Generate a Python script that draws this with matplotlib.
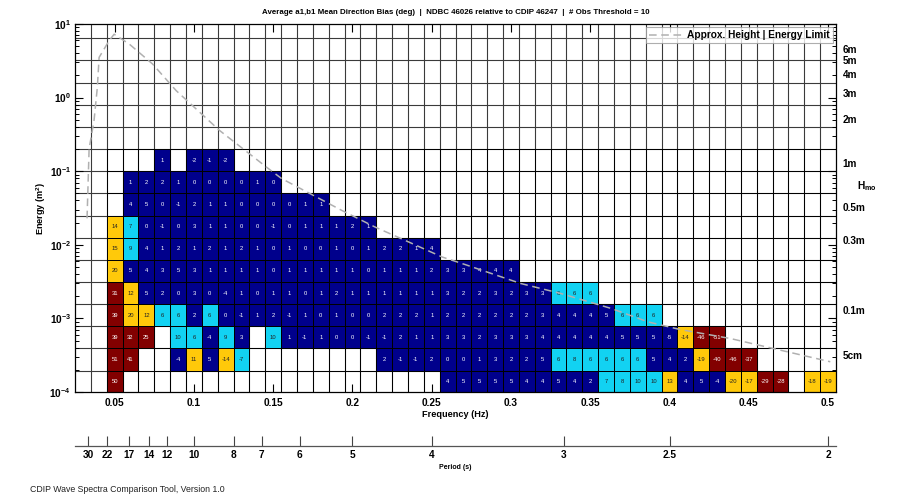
import numpy as np
import matplotlib
matplotlib.use('Agg')
import matplotlib.pyplot as plt
from matplotlib.colors import ListedColormap, BoundaryNorm
from matplotlib.ticker import FixedLocator, FuncFormatter, NullFormatter
import matplotlib.transforms as mtransforms

plt.rcParams['font.family'] = ['Liberation Sans', 'DejaVu Sans']
plt.rcParams['mathtext.fontset'] = 'custom'
plt.rcParams['mathtext.rm'] = 'Liberation Sans'
plt.rcParams['mathtext.bf'] = 'Liberation Sans:bold'
plt.rcParams['mathtext.it'] = 'Liberation Sans:italic'

N = None

# frequency bin centres (Hz), 0.01 Hz wide
freq = [0.05, 0.06, 0.07, 0.08, 0.09, 0.10, 0.11, 0.12, 0.13, 0.14,
        0.15, 0.16, 0.17, 0.18, 0.19, 0.20, 0.21, 0.22, 0.23, 0.24,
        0.25, 0.26, 0.27, 0.28, 0.29, 0.30, 0.31, 0.32, 0.33, 0.34,
        0.35, 0.36, 0.37, 0.38, 0.39, 0.40, 0.41, 0.42, 0.43, 0.44,
        0.45, 0.46, 0.47, 0.48, 0.49, 0.50]

# energy bins: factor-of-two steps, lower edges (m^2)
energy_low = [0.1 / 1024, 0.1 / 512, 0.1 / 256, 0.1 / 128, 0.1 / 64, 0.1 / 32,
              0.1 / 16, 0.1 / 8, 0.1 / 4, 0.1 / 2, 0.1]

# mean direction bias (deg), one list per energy bin, from 0.05 Hz upwards
bias_e00 = [50] + [N] * 20 + [4, 5, 5, 5, 5, 4, 4, 5, 4, 2, 7, 8, 10, 10, 13, 4, 5, -4,
                              -20, -17, -29, -28, N, -18, -19]
bias_e01 = [51, 41, N, N, -4, 11, 5, -14, -7] + [N] * 8 + \
           [2, -1, -1, 2, 0, 0, 1, 3, 2, 2, 5, 6, 8, 6, 6, 6, 6, 5, 4, 2, -19, -40, -46, -37] + [N] * 5
bias_e02 = [39, 32, 25, N, 10, 6, -4, 9, 3, N, 10, 1, -1, 1, 0, 0, -1, -1, 2, 1, 1, 3, 3,
            2, 3, 3, 3, 4, 4, 4, 4, 4, 5, 5, 5, -5, -14, -46, -51] + [N] * 7
bias_e03 = [39, 20, 12, 6, 6, 2, 6, 0, -1, 1, 2, -1, 1, 0, 1, 0, 0, 2, 2, 2, 1, 2, 2,
            2, 2, 2, 2, 3, 4, 4, 4, 5, 6, 6, 6] + [N] * 11
bias_e04 = [31, 12, 5, 2, 0, 3, 0, -4, 1, 0, 1, 1, 0, 1, 2, 1, 1, 1, 1, 1, 1, 3, 2,
            2, 3, 2, 3, 3, 6, 6, 6] + [N] * 15
bias_e05 = [20, 5, 4, 3, 5, 3, 1, 1, 1, 1, 0, 1, 1, 1, 1, 1, 0, 1, 1, 1, 2, 3, 3,
            4, 4, 4] + [N] * 20
bias_e06 = [15, 9, 4, 1, 2, 1, 2, 1, 2, 1, 0, 1, 0, 0, 1, 0, 1, 2, 2, 1, 4] + [N] * 25
bias_e07 = [14, 7, 0, -1, 0, 3, 1, 1, 0, 0, -1, 0, 1, 1, 1, 2, 1] + [N] * 29
bias_e08 = [N, 4, 5, 0, -1, 2, 1, 1, 0, 0, 0, 0, 1, 1] + [N] * 32
bias_e09 = [N, 1, 2, 2, 1, 0, 0, 0, 0, 1, 0] + [N] * 35
bias_e10 = [N, N, N, 1, N, -2, -1, -2] + [N] * 38

bias_rows = [bias_e00, bias_e01, bias_e02, bias_e03, bias_e04, bias_e05,
             bias_e06, bias_e07, bias_e08, bias_e09, bias_e10]

# approx. height | energy limit curve
limit_freq = [0.0326, 0.0339, 0.0370, 0.0391, 0.0402, 0.0465, 0.0497, 0.0592, 0.0739,
              0.0888, 0.1162, 0.1458, 0.1553, 0.1932, 0.2143, 0.2355, 0.2566, 0.2713,
              0.3062, 0.3315, 0.3632, 0.3864, 0.4064, 0.4381, 0.4698, 0.5014]
limit_log_energy = [-1.64, -0.696, -0.312, 0.140, 0.546, 0.773, 0.861, 0.728, 0.457,
                    0.095, -0.447, -0.945, -1.10, -1.532, -1.759, -1.962, -2.166, -2.270,
                    -2.526, -2.662, -2.865, -3.047, -3.15, -3.272, -3.431, -3.589]

# secondary axes
period_ticks = [30, 22, 17, 14, 12, 10, 8, 7, 6, 5, 4, 3, 2.5, 2]
period_labels = ['30', '22', '17', '14', '12', '10', '8', '7', '6', '5', '4', '3', '2.5', '2']
hmo_values = [6, 5, 4, 3, 2, 1, 0.5, 0.3, 0.1, 0.05]
hmo_labels = ['6m', '5m', '4m', '3m', '2m', '1m', '0.5m', '0.3m', '0.1m', '5cm']

# ---------------------------------------------------------------------------
W, H = 897, 501
fig = plt.figure(figsize=(W / 100, H / 100), dpi=100)
fig.patch.set_facecolor('white')

ax_l, ax_r, ax_t, ax_b = 75, 836, 24, 392
ax = fig.add_axes([ax_l / W, 1 - ax_b / H, (ax_r - ax_l) / W, (ax_b - ax_t) / H])

df = 0.01
f_edges = np.array(freq + [freq[-1] + df]) - df / 2
e_low = np.array(energy_low)
e_edges = np.append(e_low, e_low[-1] * 2)

vals = np.array([[np.nan if v is None else v for v in r] for r in bias_rows], dtype=float)
masked = np.ma.masked_invalid(np.abs(vals))

colors = ['#00008C', '#12D2F2', '#FFC90A', '#820000']
cmap = ListedColormap(colors)
norm = BoundaryNorm([0, 5.5, 10.5, 20.5, 1000], cmap.N)

xmin, xmax = 0.025, 0.505
ymin, ymax = 1e-4, 1e1

# grid lines at bin edges
grid_f = np.arange(0.035, 0.5, 0.01)
grid_e = 0.1 * 2.0 ** np.arange(-10, 7)
for gf in grid_f:
    ax.axvline(gf, color='#3a3a3a', lw=0.8, zorder=1)
for ge in grid_e:
    ax.axhline(ge, color='#3a3a3a', lw=0.8, zorder=1)

ax.pcolormesh(f_edges, e_edges, masked, cmap=cmap, norm=norm,
              edgecolors='black', linewidth=0.7, zorder=2)

for i in range(vals.shape[0]):
    ec = np.sqrt(e_edges[i] * e_edges[i + 1])
    for j in range(vals.shape[1]):
        v = vals[i, j]
        if np.isnan(v):
            continue
        a = abs(v)
        tc = 'white' if (a <= 5.5 or a > 20.5) else '#222222'
        ax.text(freq[j], ec, '%d' % v, ha='center', va='center', fontsize=4.2,
                color=tc, zorder=4)

ax.plot(limit_freq, 10 ** np.array(limit_log_energy), color='#b0b0b0', lw=1.1,
        ls=(0, (5, 3)), zorder=5, label='Approx. Height | Energy Limit', clip_on=True)

ax.set_xlim(xmin, xmax)
ax.set_yscale('log')
ax.set_ylim(ymin, ymax)

xt = [0.05, 0.1, 0.15, 0.2, 0.25, 0.3, 0.35, 0.4, 0.45, 0.5]
ax.xaxis.set_major_locator(FixedLocator(xt))
ax.set_xticklabels(['0.05', '0.1', '0.15', '0.2', '0.25', '0.3', '0.35', '0.4', '0.45', '0.5'],
                   fontweight='bold', fontsize=7.3)
ax.yaxis.set_major_locator(FixedLocator([1e-4, 1e-3, 1e-2, 1e-1, 1e0, 1e1]))
ax.yaxis.set_major_formatter(FuncFormatter(lambda v, p: r'$\mathbf{10^{%d}}$' % int(round(np.log10(v)))))
minor = [m * 10.0 ** d for d in range(-4, 1) for m in range(2, 10)]
ax.yaxis.set_minor_locator(FixedLocator(minor))
ax.yaxis.set_minor_formatter(NullFormatter())
ax.tick_params(axis='both', which='major', direction='in', length=5.5, width=0.8,
               top=True, right=True, labelsize=7.3, pad=3)
ax.tick_params(axis='y', which='minor', direction='in', length=3, width=0.7,
               left=True, right=True)
ax.tick_params(axis='x', pad=4)
for s in ax.spines.values():
    s.set_linewidth(0.9)
    s.set_zorder(6)

ax.set_xlabel('Frequency (Hz)', fontsize=6.6, fontweight='bold', labelpad=2)
ax.set_ylabel('Energy (m$^\\mathbf{2}$)', fontsize=6.6, fontweight='bold', labelpad=1)
ax.set_title('Average a1,b1 Mean Direction Bias (deg)  |  NDBC 46026 relative to CDIP 46247  |  # Obs Threshold = 10',
             fontsize=5.7, fontweight='bold', pad=7)

leg = ax.legend(loc='upper right', frameon=True, fancybox=False,
                borderaxespad=0.3, handlelength=3.4, borderpad=0.3, handletextpad=0.4,
                prop={'weight': 'bold', 'size': 7.3})
leg.get_frame().set_edgecolor('#9a9a9a')
leg.get_frame().set_linewidth(0.8)
leg.set_zorder(7)

# Hmo labels on right
trans = mtransforms.blended_transform_factory(ax.transAxes, ax.transData)
for hv, hl in zip(hmo_values, hmo_labels):
    ax.text(1.009, hv ** 2 / 8.0, hl, transform=trans, ha='left', va='center',
            fontsize=7.2, fontweight='bold')
ax.text(1.027, 0.063, r'$\mathbf{H_{mo}}$', transform=trans, ha='left', va='center',
        fontsize=7.4)

# period axis
pax = fig.add_axes([ax_l / W, 1 - 446 / H, (ax_r - ax_l) / W, 0.0001])
pax.set_xlim(xmin, xmax)
pax.set_ylim(0, 1)
for sname in ['left', 'right', 'top']:
    pax.spines[sname].set_visible(False)
pax.spines['bottom'].set_color('#555555')
pax.spines['bottom'].set_linewidth(0.9)
pax.set_yticks([])
pax.xaxis.set_major_locator(FixedLocator([1.0 / t for t in period_ticks]))
pax.set_xticklabels(period_labels, fontweight='bold', fontsize=7.3)
pax.tick_params(axis='x', direction='in', length=7, width=0.8, pad=3, color='#444444')
pax.set_xlabel('Period (s)', fontsize=5, fontweight='bold', labelpad=3)
pax.patch.set_visible(False)

fig.text(30 / W, 1 - 490 / H, 'CDIP Wave Spectra Comparison Tool, Version 1.0',
         fontsize=6.3, ha='left', va='center', color='#222222')

fig.savefig('out.png', dpi=100, facecolor='white')
